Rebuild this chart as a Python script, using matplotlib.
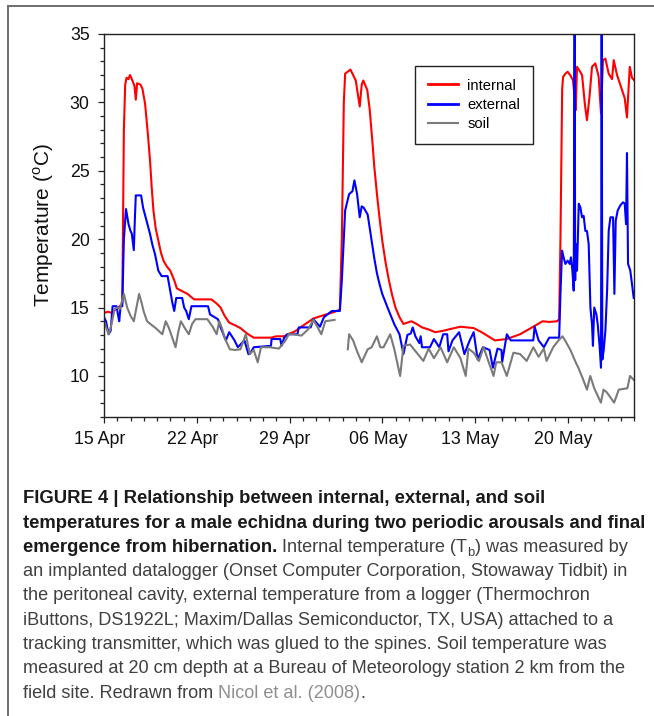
import numpy as np
import matplotlib
matplotlib.use("Agg")
import matplotlib.pyplot as plt
from matplotlib.lines import Line2D
from matplotlib.transforms import ScaledTranslation

plt.rcParams['font.family'] = ['Liberation Sans', 'DejaVu Sans']
plt.rcParams['mathtext.fontset'] = 'custom'
plt.rcParams['mathtext.rm'] = 'Liberation Sans'

# ---------------- data (days since 15 Apr, temperature in degC) ----------------
internal_day = [0, 0.3, 0.6, 0.9, 1.2, 1.38, 1.5, 1.6, 1.7, 1.85,
                1.96, 2.1, 2.3, 2.4, 2.5, 2.75, 2.9, 3.1, 3.3, 3.47,
                3.6, 3.73, 3.9, 4.1, 4.3, 4.5, 4.75, 5.0, 5.3, 5.5,
                5.9, 6.3, 6.8, 8.1, 8.5, 8.8, 9.1, 9.45, 9.9, 10.3,
                10.8, 11.3, 12.6, 13.0, 13.6, 14.0, 14.4, 14.9, 15.8, 16.6,
                17.3, 17.8, 17.95, 18.1, 18.2, 18.6, 18.8, 19.0, 19.3, 19.45,
                19.57, 19.87, 20.05, 20.25, 20.4, 20.6, 20.8, 21.0, 21.25, 21.5,
                21.75, 22.0, 22.3, 22.6, 23.2, 23.6, 24.0, 24.5, 25.0, 25.6,
                26.0, 26.9, 27.9, 28.5, 29.0, 29.5, 30.4, 31.4, 32.4, 33.1,
                33.6, 34.2, 34.35,
                34.45, 34.58, 34.65, 34.82, 34.99, 35.19, 35.39, 35.52, 35.6, 35.7,
                35.9, 36.08, 36.3, 36.45, 36.65, 36.83, 37.08, 37.33, 37.51, 37.66,
                37.84, 38.09, 38.34, 38.47, 38.72, 39.1, 39.3, 39.47, 39.68, 39.85,
                40.0]
internal_temp = [14.6, 14.7, 14.6, 14.9, 15.1, 15.3, 28.0, 31.3, 31.8, 31.7,
                 32.0, 31.7, 31.2, 30.2, 31.4, 31.3, 31.0, 29.9, 27.8, 25.8,
                 23.8, 22.1, 20.8, 19.9, 19.0, 18.4, 18.0, 17.7, 17.0, 16.4,
                 16.2, 16.0, 15.6, 15.6, 15.3, 15.0, 14.4, 13.9, 13.7, 13.5,
                 13.1, 12.8, 12.8, 12.9, 12.9, 13.1, 13.25, 13.6, 14.2, 14.45,
                 14.65, 14.85, 20.0, 30.0, 32.1, 32.4, 32.0, 31.6, 29.7, 31.3,
                 31.6, 30.9, 29.5, 27.2, 25.3, 23.3, 21.5, 19.9, 18.3, 17.0,
                 15.9, 15.0, 14.3, 13.8, 14.0, 13.8, 13.55, 13.4, 13.2, 13.3,
                 13.4, 13.6, 13.5, 13.2, 12.9, 12.6, 12.7, 13.05, 13.6, 14.0,
                 13.95, 14.0, 14.15,
                 20.0, 31.0, 31.87, 32.1, 32.24, 31.99, 31.63, 30.41, 29.43, 32.6,
                 32.3, 32.0, 29.8, 28.7, 30.5, 32.6, 32.85, 31.9, 29.19, 33.09,
                 33.2, 32.1, 31.7, 33.09, 32.0, 30.9, 30.3, 28.9, 32.6, 31.8,
                 31.63]

external_day = [0, 0.15, 0.35, 0.5, 0.65, 0.95, 1.05, 1.15, 1.25, 1.38,
                1.5, 1.66, 1.85, 2.0, 2.1, 2.25, 2.33, 2.4, 2.8, 2.95,
                3.2, 3.47, 3.65, 3.85, 4.1, 4.35, 4.8, 5.0, 5.15, 5.3,
                5.45, 5.9, 6.05, 6.2, 6.4, 6.6, 7.85, 8.0, 8.6, 8.8,
                9.2, 9.45, 9.85, 10.1, 10.6, 10.9, 11.0, 11.3, 12.6, 12.65,
                13.3, 13.4, 13.6, 13.85, 14.6, 14.7, 15.6, 15.8, 16.3, 16.6,
                17.2, 17.8, 17.95, 18.1, 18.2, 18.5, 18.75, 18.9, 19.1, 19.3,
                19.45, 19.6, 19.9, 20.2, 20.4, 20.6, 20.8, 21.0, 21.4, 21.9,
                22.3, 22.6, 22.9, 23.15, 23.3, 23.5, 23.8, 23.9, 24.0, 24.6,
                24.9, 25.3, 25.6, 25.9, 26.0, 26.3, 26.8, 27.2, 27.6, 27.9,
                28.2, 28.6, 29.1, 29.35, 29.7, 30.0, 30.05, 30.4, 30.7, 32.4,
                32.5, 32.8, 33.2, 33.6, 34.35, 34.45,
                34.57, 34.69, 34.82, 34.99, 35.15, 35.24, 35.35, 35.45, 35.52, 35.56,
                35.6, 35.7, 35.83, 35.95, 36.08, 36.2, 36.33, 36.45, 36.58, 36.71,
                36.83, 36.9, 37.0, 37.16, 37.26, 37.41, 37.51, 37.56, 37.61, 37.71,
                37.84, 37.97, 38.09, 38.22, 38.42, 38.52, 38.62, 38.77, 38.97, 39.17,
                39.3, 39.4, 39.47, 39.55, 39.72, 39.85, 39.98]
external_temp = [14.3, 14.0, 13.05, 13.3, 15.1, 15.1, 14.5, 14.0, 15.1, 15.1,
                 20.0, 22.2, 21.1, 20.6, 20.4, 19.2, 21.5, 23.2, 23.2, 22.3,
                 21.4, 20.4, 19.6, 18.9, 17.7, 17.3, 17.3, 16.2, 15.4, 14.75,
                 15.7, 15.7, 15.0, 14.75, 14.15, 15.1, 15.1, 14.5, 14.15, 13.55,
                 12.6, 13.2, 12.6, 12.1, 12.6, 11.6, 11.6, 12.1, 12.2, 12.7,
                 12.7, 12.2, 12.8, 13.05, 13.05, 13.55, 13.55, 14.15, 13.6, 14.3,
                 14.75, 14.75, 17.0, 20.0, 22.1, 23.3, 23.5, 24.3, 23.3, 21.6,
                 22.4, 22.3, 21.8, 19.9, 18.6, 17.5, 16.7, 16.0, 15.0, 13.8,
                 13.05, 11.6, 13.0, 13.1, 13.55, 12.9, 12.4, 12.9, 12.1, 12.1,
                 12.7, 12.1, 13.05, 13.05, 11.8, 12.6, 13.2, 11.6, 12.6, 13.2,
                 11.2, 12.1, 11.9, 10.6, 12.0, 11.9, 11.0, 13.05, 12.6, 12.6,
                 13.6, 12.6, 12.1, 12.8, 12.8, 16.0,
                 19.16, 18.67, 18.19, 18.43, 18.19, 18.67, 17.7, 16.24, 36.5, 17.0,
                 19.65, 17.7, 22.59, 22.34, 21.6, 21.7, 20.6, 20.6, 19.65, 15.0,
                 13.8, 12.2, 15.0, 14.5, 13.8, 12.1, 10.6, 36.5, 11.2, 11.85,
                 13.3, 16.24, 20.6, 21.6, 21.6, 16.0, 21.35, 22.1, 22.47, 22.7,
                 22.6, 21.1, 26.3, 18.2, 17.7, 16.7, 15.7]

soil_day = [0, 0.15, 0.35, 0.5, 0.8, 1.0, 1.2, 1.5, 1.75, 2.0,
            2.25, 2.45, 2.65, 2.85, 3.0, 3.25, 3.5, 3.9, 4.4, 4.66,
            4.9, 5.15, 5.4, 5.6, 5.8, 6.1, 6.4, 6.65, 6.9, 7.8,
            8.2, 8.5, 8.7, 8.9, 9.1, 9.5, 9.9, 10.3, 10.7, 11.0,
            11.3, 11.6, 11.85, 12.5, 13.2, 13.7, 13.95, 14.3, 14.9, 15.4,
            15.8, 16.1, 16.4, 16.7, 17.4, 17.9, 18.4, 18.5, 18.8, 19.1,
            19.45, 19.9, 20.2, 20.6, 20.85, 21.1, 21.6, 21.9, 22.35, 22.6,
            23.1, 23.6, 24.1, 24.5, 24.9, 25.4, 25.9, 26.4, 26.9, 27.3,
            27.5, 27.9, 28.3, 28.65, 29.0, 29.4, 29.6, 30.0, 30.4, 30.9,
            31.4, 31.9, 32.4, 32.8, 33.2, 33.4, 33.9, 34.3, 34.6, 34.8,
            35.2, 35.6, 35.8, 36.1, 36.45, 36.7, 37.0, 37.5, 37.7, 37.95,
            38.5, 38.85, 39.5, 39.7, 40.0]
soil_temp = [14.0, 13.6, 13.05, 13.5, 14.9, 15.0, 14.9, 16.0, 15.0, 14.4,
             14.0, 15.0, 16.0, 15.3, 14.7, 14.0, 13.8, 13.5, 13.05, 14.0,
             13.5, 12.8, 12.1, 13.2, 14.0, 13.5, 13.05, 13.8, 14.15, 14.15,
             13.6, 13.05, 14.0, 13.5, 12.8, 11.95, 11.9, 11.95, 13.05, 11.6,
             11.9, 11.0, 12.1, 12.1, 12.0, 12.6, 13.05, 13.05, 12.95, 13.4,
             14.1, 13.6, 13.05, 14.0, 14.1, np.nan, 11.95, 13.05, 12.6, 11.8,
             11.0, 11.95, 12.1, 12.9, 12.1, 12.1, 13.05, 12.0, 10.0, 12.2,
             12.3, 11.7, 11.1, 12.0, 11.3, 12.1, 11.0, 12.1, 11.3, 10.0,
             12.0, 11.7, 11.1, 12.1, 11.1, 10.0, 11.0, 11.0, 10.0, 11.7,
             11.6, 11.1, 12.1, 11.4, 12.0, 11.1, 12.1, 12.6, 12.9, 12.6,
             11.9, 11.0, 10.6, 9.9, 9.0, 10.0, 9.1, 8.05, 9.0, 8.8,
             8.05, 9.0, 9.1, 10.0, 9.7]

series_labels = ["internal", "external", "soil"]
tick_days = [0, 7, 14, 21, 28, 35]
tick_labels = ["15 Apr", "22 Apr", "29 Apr", "06 May", "13 May", "20 May"]
y_ticks = [10, 15, 20, 25, 30, 35]
y_label = "Temperature ($^{\\rm o}$C)"

caption_bold_1 = "FIGURE 4 | Relationship between internal, external, and soil"
caption_bold_2 = "temperatures for a male echidna during two periodic arousals and final"
caption_bold_3 = "emergence from hibernation."
caption_line_3 = ["Internal temperature (T", "b", ") was measured by"]
caption_lines = [
    "an implanted datalogger (Onset Computer Corporation, Stowaway Tidbit) in",
    "the peritoneal cavity, external temperature from a logger (Thermochron",
    "iButtons, DS1922L; Maxim/Dallas Semiconductor, TX, USA) attached to a",
    "tracking transmitter, which was glued to the spines. Soil temperature was",
    "measured at 20 cm depth at a Bureau of Meteorology station 2 km from the",
]
caption_last = ["field site. Redrawn from ", "Nicol et al. (2008)", "."]

assert len(internal_day) == len(internal_temp)
assert len(external_day) == len(external_temp)
assert len(soil_day) == len(soil_temp)

# ---------------- figure ----------------
W, H = 654, 716
fig = plt.figure(figsize=(W / 100, H / 100), dpi=100)

# outer frame lines (top and left visible)
fig.add_artist(Line2D([8 / W, 1.0], [1 - 6 / H, 1 - 6 / H], transform=fig.transFigure,
                      color='#6e6e6e', lw=1.4))
fig.add_artist(Line2D([8 / W, 8 / W], [0.0, 1 - 6 / H], transform=fig.transFigure,
                      color='#6e6e6e', lw=1.4))

ax = fig.add_axes([104 / W, 1 - 417 / H, (634 - 104) / W, (417 - 34) / H])
ax.plot(internal_day, internal_temp, color='#ff0000', lw=1.5, label=series_labels[0])
ax.plot(external_day, external_temp, color='#0000ff', lw=1.5, label=series_labels[1])
ax.plot(soil_day, soil_temp, color='#7a7a7a', lw=1.5, label=series_labels[2])

ax.set_xlim(0, 40)
ax.set_ylim(7, 35)
ax.set_yticks(y_ticks)
ax.set_yticks(np.arange(7, 36), minor=True)
ax.set_xticks(tick_days)
ax.set_xticklabels(tick_labels)
ax.set_xticks(np.arange(0, 41), minor=True)
ax.tick_params(which='major', direction='out', length=4.3, width=0.9, colors='#222222',
               labelsize=12.8, labelcolor='#111111')
ax.tick_params(axis='y', which='major', pad=6.0)
ax.tick_params(axis='x', which='major', pad=6.0)
ax.tick_params(which='minor', direction='out', length=2.9, width=0.9, colors='#222222')
for sp in ax.spines.values():
    sp.set_color('#222222')
    sp.set_linewidth(1.0)

shift = ScaledTranslation(-4.5 / 100, 0, fig.dpi_scale_trans)
for lab in ax.get_xticklabels():
    lab.set_transform(lab.get_transform() + shift)

fig.text(44 / W, 1 - 225 / H, y_label, rotation=90, ha='center', va='center',
         fontsize=15, color='#111111')

leg = ax.legend(loc='upper left', bbox_to_anchor=(415 / W, 1 - 66 / H),
                bbox_transform=fig.transFigure, borderaxespad=0, fontsize=10.6,
                frameon=True, fancybox=False, edgecolor='#222222', framealpha=1,
                handlelength=2.1, handletextpad=0.6, labelspacing=0.36, borderpad=0.85)
leg.get_frame().set_linewidth(1.0)
for line in leg.get_lines():
    line.set_linewidth(2.0)
leg.get_lines()[2].set_linewidth(1.5)

# ---------------- caption ----------------
renderer = fig.canvas.get_renderer()


def text_width(s, size, weight):
    t = fig.text(0, 0, s, fontsize=size, fontweight=weight)
    w = t.get_window_extent(renderer).width
    t.remove()
    return w


def advance(s, size, weight):
    return text_width(s + "|", size, weight) - text_width("|", size, weight)


x0 = 23
bold_size = 12 * (646 - x0) / text_width(caption_bold_2, 12, 'bold')
reg_size = 12 * (628 - x0) / text_width(caption_lines[0], 12, 'normal')
bold_col = '#1a1a1a'
reg_col = '#404040'
link_col = '#8f8f8f'
baselines = [503.3 + 24.3 * i for i in range(9)]


def put(x, ybase, s, size, weight, color):
    fig.text(x / W, 1 - ybase / H, s, fontsize=size, fontweight=weight, color=color,
             ha='left', va='baseline')
    return x + advance(s, size, weight)


put(x0, baselines[0], caption_bold_1, bold_size, 'bold', bold_col)
put(x0, baselines[1], caption_bold_2, bold_size, 'bold', bold_col)
x = put(x0, baselines[2], caption_bold_3 + " ", bold_size, 'bold', bold_col)
x = put(x, baselines[2], caption_line_3[0], reg_size, 'normal', reg_col)
x = put(x, baselines[2] + 4, caption_line_3[1], reg_size * 0.72, 'normal', reg_col)
put(x, baselines[2], caption_line_3[2], reg_size, 'normal', reg_col)
for i, line in enumerate(caption_lines):
    put(x0, baselines[3 + i], line, reg_size, 'normal', reg_col)
x = put(x0, baselines[8], caption_last[0], reg_size, 'normal', reg_col)
x = put(x, baselines[8], caption_last[1], reg_size, 'normal', link_col)
put(x, baselines[8], caption_last[2], reg_size, 'normal', reg_col)

fig.savefig("out.png", dpi=100)
